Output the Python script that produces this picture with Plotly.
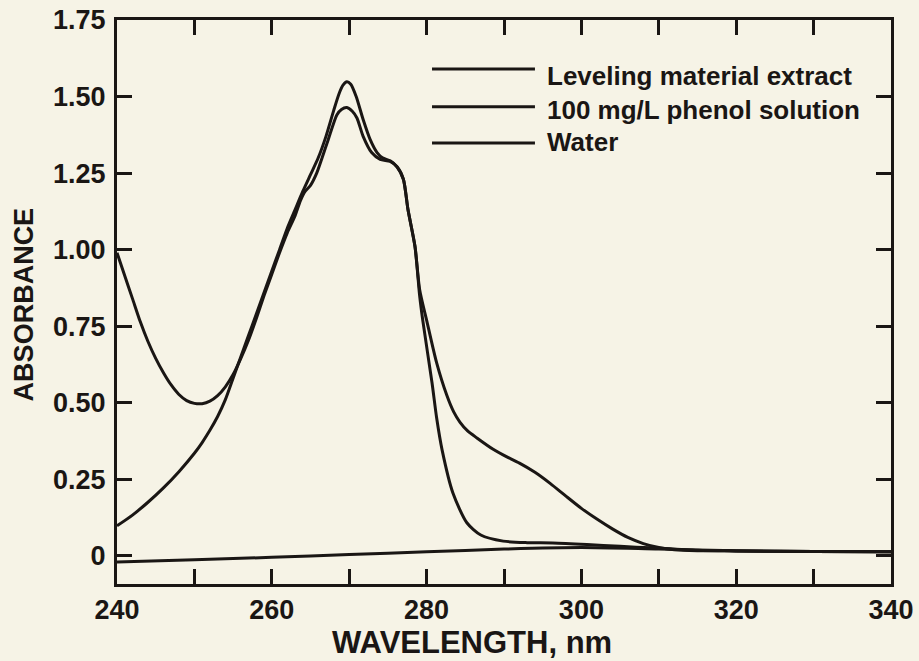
import plotly.graph_objects as go

# ---------------- data ----------------
series_names = ["Leveling material extract", "100 mg/L phenol solution", "Water"]

extract_wl = [240, 241, 242, 243, 244, 245, 246, 247, 248, 249, 250, 251, 252, 253, 254, 255,
              256, 257, 258, 259, 260, 261, 262, 263, 263.7, 264.3, 265, 265.8, 266.5, 267.3,
              268.4, 269, 269.7, 270.4, 271, 271.8, 272.9, 274, 275.3, 276.2, 277, 277.6,
              278.5, 279.1, 280, 281.3, 282.6, 283.5, 284.3, 285.3, 286.5, 288.6, 290, 292,
              294, 296, 298, 300, 302, 304, 306, 308, 310, 312, 315, 320, 330, 340]
extract_abs = [0.99, 0.915, 0.84, 0.765, 0.70, 0.645, 0.598, 0.558, 0.527, 0.507, 0.498, 0.497,
               0.505, 0.523, 0.552, 0.592, 0.645, 0.705, 0.775, 0.85, 0.92, 0.99, 1.055, 1.11,
               1.16, 1.19, 1.21, 1.25, 1.30, 1.36, 1.44, 1.458, 1.464, 1.452, 1.43, 1.37,
               1.317, 1.295, 1.288, 1.27, 1.23, 1.13, 1.01, 0.87, 0.77, 0.63, 0.525, 0.47,
               0.437, 0.408, 0.385, 0.348, 0.328, 0.303, 0.273, 0.236, 0.195, 0.155, 0.12,
               0.088, 0.06, 0.04, 0.027, 0.02, 0.017, 0.016, 0.014, 0.013]

phenol_wl = [240, 242, 244, 246, 248, 250, 251, 252, 253, 254, 255, 256, 257, 258, 259, 260,
             261, 262, 263, 264, 265, 266, 267, 268, 268.7, 269.2, 269.7, 270.2, 270.9, 271.8,
             272.7, 273.6, 274.3, 275.3, 276.2, 277, 277.6, 278.5, 279.1, 279.5, 280.7, 281.3,
             282, 283.4, 285.2, 287, 289.9, 293, 296.3, 300.7, 305, 309, 315, 320, 330, 340]
phenol_abs = [0.098, 0.133, 0.175, 0.222, 0.275, 0.335, 0.37, 0.41, 0.455, 0.51, 0.58, 0.65,
              0.72, 0.79, 0.86, 0.93, 1.00, 1.07, 1.13, 1.19, 1.245, 1.30, 1.37, 1.455, 1.51,
              1.537, 1.548, 1.54, 1.50, 1.425, 1.36, 1.317, 1.30, 1.29, 1.27, 1.23, 1.13,
              1.01, 0.85, 0.77, 0.565, 0.45, 0.346, 0.205, 0.108, 0.068, 0.048, 0.043, 0.042,
              0.037, 0.031, 0.026, 0.018, 0.016, 0.014, 0.013]

water_wl = [240, 250, 260, 270, 280, 290, 300, 310, 320, 330, 340]
water_abs = [-0.02, -0.013, -0.005, 0.004, 0.013, 0.022, 0.027, 0.022, 0.017, 0.014, 0.013]

x_tick_vals = [240, 250, 260, 270, 280, 290, 300, 310, 320, 330, 340]
x_tick_text = ["240", "", "260", "", "280", "", "300", "", "320", "", "340"]
y_tick_vals = [0, 0.25, 0.5, 0.75, 1.0, 1.25, 1.5, 1.75]
y_tick_text = ["0", "0.25", "0.50", "0.75", "1.00", "1.25", "1.50", "1.75"]

# ---------------- style ----------------
BG = "#f6f3e6"
INK = "#1a1614"
FONT = "Liberation Sans, Arial, Helvetica, sans-serif"

fig = go.Figure()
for name, wl, ab in [(series_names[0], extract_wl, extract_abs),
                     (series_names[1], phenol_wl, phenol_abs),
                     (series_names[2], water_wl, water_abs)]:
    fig.add_trace(go.Scatter(x=wl, y=ab, mode="lines", name=name,
                             line=dict(color=INK, width=3, shape="spline", smoothing=0.7),
                             showlegend=False))

axis_common = dict(showline=True, linecolor=INK, linewidth=3, mirror="ticks",
                   ticks="inside", ticklen=15, tickwidth=2.5, tickcolor=INK,
                   showgrid=False, zeroline=False, automargin=False,
                   tickfont=dict(family=FONT, size=27, color=INK, weight="bold"))

fig.update_xaxes(range=[240, 340], tickmode="array", tickvals=x_tick_vals,
                 ticktext=x_tick_text, ticklabelstandoff=0, **axis_common)
fig.update_yaxes(range=[-0.092, 1.75], tickmode="array", tickvals=y_tick_vals,
                 ticktext=y_tick_text, ticklabelstandoff=3, **axis_common)

annotations = [
    dict(text="ABSORBANCE", x=-0.12, y=0.496, xref="paper", yref="paper",
         textangle=-90, showarrow=False, xanchor="center", yanchor="middle",
         font=dict(family=FONT, size=27, color=INK, weight="bold")),
    dict(text="WAVELENGTH, nm", x=0.459, y=-0.104, xref="paper", yref="paper",
         showarrow=False, xanchor="center", yanchor="middle",
         font=dict(family=FONT, size=31, color=INK, weight="bold")),
]
shapes = []
legend_line_y = [0.913, 0.846, 0.782]
legend_text_y = [0.901, 0.840, 0.784]
for name, ly, ty in zip(series_names, legend_line_y, legend_text_y):
    shapes.append(dict(type="line", xref="paper", yref="paper", x0=0.407, x1=0.540,
                       y0=ly, y1=ly, line=dict(color=INK, width=3)))
    annotations.append(dict(text=name, x=0.553, y=ty, xref="paper", yref="paper",
                            showarrow=False, xanchor="left", yanchor="middle",
                            font=dict(family=FONT, size=26, color=INK, weight="bold")))

fig.update_layout(width=919, height=661, margin=dict(l=117, r=28, t=20, b=77),
                  paper_bgcolor=BG, plot_bgcolor=BG, showlegend=False,
                  annotations=annotations, shapes=shapes)

fig.write_html("out.html")
